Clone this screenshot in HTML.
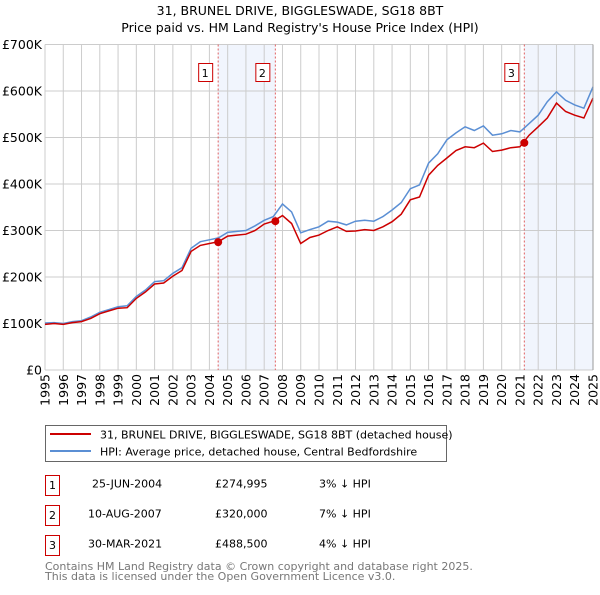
<!DOCTYPE html>
<html><head><meta charset="utf-8"><style>
body{margin:0;background:#fff;font-family:"Liberation Sans","DejaVu Sans",sans-serif;}
svg text{font-family:"DejaVu Sans","Liberation Sans",sans-serif;}
</style></head><body>
<svg id="c" width="600" height="590" xmlns="http://www.w3.org/2000/svg">
<text x="300" y="15" text-anchor="middle" font-size="12.5">31, BRUNEL DRIVE, BIGGLESWADE, SG18 8BT</text>
<text x="300" y="32" text-anchor="middle" font-size="12.5">Price paid vs. HM Land Registry's House Price Index (HPI)</text>
<g id="plot"></g>
<g>
<rect x="45.5" y="425.5" width="401" height="36" fill="#fff" stroke="#666"/>
<line x1="50" y1="434" x2="91" y2="434" stroke="#cc0000" stroke-width="2"/>
<text x="100" y="438.5" font-size="11">31, BRUNEL DRIVE, BIGGLESWADE, SG18 8BT (detached house)</text>
<line x1="50" y1="451" x2="91" y2="451" stroke="#5b8fd4" stroke-width="2"/>
<text x="100" y="455.5" font-size="11">HPI: Average price, detached house, Central Bedfordshire</text>
</g>
<g font-size="11">
<rect x="45.5" y="475.5" width="14" height="20" fill="#fff" stroke="#cc0000"/><text x="52.5" y="489" text-anchor="middle">1</text>
<text x="92" y="487.5">25-JUN-2004</text><text x="215" y="487.5">£274,995</text><text x="319" y="487.5">3% ↓ HPI</text>
<rect x="45.5" y="505.5" width="14" height="20" fill="#fff" stroke="#cc0000"/><text x="52.5" y="519" text-anchor="middle">2</text>
<text x="88" y="517.5">10-AUG-2007</text><text x="215" y="517.5">£320,000</text><text x="319" y="517.5">7% ↓ HPI</text>
<rect x="45.5" y="535.5" width="14" height="20" fill="#fff" stroke="#cc0000"/><text x="52.5" y="549" text-anchor="middle">3</text>
<text x="88" y="547.5">30-MAR-2021</text><text x="215" y="547.5">£488,500</text><text x="319" y="547.5">4% ↓ HPI</text>
</g>
<text x="45" y="570" font-size="11" fill="#777">Contains HM Land Registry data © Crown copyright and database right 2025.</text>
<text x="45" y="580" font-size="11" fill="#777">This data is licensed under the Open Government Licence v3.0.</text>
</svg>
<script>
const years=[1995,1995.5,1996,1996.5,1997,1997.5,1998,1998.5,1999,1999.5,2000,2000.5,2001,2001.5,2002,2002.5,2003,2003.5,2004,2004.5,2005,2005.5,2006,2006.5,2007,2007.5,2008,2008.5,2009,2009.5,2010,2010.5,2011,2011.5,2012,2012.5,2013,2013.5,2014,2014.5,2015,2015.5,2016,2016.5,2017,2017.5,2018,2018.5,2019,2019.5,2020,2020.5,2021,2021.5,2022,2022.5,2023,2023.5,2024,2024.5,2025];
const hpiValues=[101,102,100,104,106,114,124,130,136,138,158,172,190,192,208,220,262,276,280,284,296,298,300,310,322,330,357,340,295,302,308,320,318,312,320,322,320,330,344,360,390,398,445,465,495,510,523,515,525,505,508,515,512,530,548,577,598,580,570,563,609];
const propertyValues=[98,100,98,102,104,111,121,127,133,134,154,168,185,187,202,214,255,268,272,276,288,290,292,300,314,320,332,315,272,285,290,300,308,298,299,302,300,308,319,335,366,372,419,440,456,472,480,478,488,470,473,478,480,505,523,542,574,556,548,542,585];
const saleLabels=["1","2","3"];
const saleDates=[2004.48,2007.61,2021.24];
const salePrices=[274995,320000,488500];
const yTicks=[0,100,200,300,400,500,600,700];
const yTickLabels=["£0","£100K","£200K","£300K","£400K","£500K","£600K","£700K"];
const xTicks=[1995,1996,1997,1998,1999,2000,2001,2002,2003,2004,2005,2006,2007,2008,2009,2010,2011,2012,2013,2014,2015,2016,2017,2018,2019,2020,2021,2022,2023,2024,2025];

const X0=45,X1=593,Y0=370,Y1=44.5;
const xs=y=>X0+(y-1995)/30*(X1-X0);
const ys=v=>Y0-v/700*(Y0-Y1); // v in thousands
const NS="http://www.w3.org/2000/svg";
const g=document.getElementById('plot');
function mk(t,a){const e=document.createElementNS(NS,t);for(const k in a)e.setAttribute(k,a[k]);g.appendChild(e);return e;}
const sh1=mk('rect',{x:xs(saleDates[0]),y:Y1,width:xs(saleDates[1])-xs(saleDates[0]),height:Y0-Y1,fill:'#eef2fc',opacity:0.8});


const sh2=mk('rect',{x:xs(saleDates[2]),y:Y1,width:X1-xs(saleDates[2]),height:Y0-Y1,fill:'#eef2fc',opacity:0.8});


yTicks.forEach((t,i)=>{
 const l=mk('line',{x1:X0,x2:X1,y1:ys(t),y2:ys(t),stroke:'#ccc','stroke-width':1});
 
 
 const tx=mk('text',{x:X0-3,y:ys(t)+4.5,'text-anchor':'end','font-size':12.5});
 tx.textContent=yTickLabels[i];
 
 
});
xTicks.forEach(t=>{
 const l=mk('line',{x1:xs(t),x2:xs(t),y1:Y1,y2:Y0,stroke:'#ccc','stroke-width':1});
 
 
 const tx=mk('text',{transform:`translate(${xs(t)+4.5},374) rotate(-90)`,'text-anchor':'end','font-size':12.5});
 tx.textContent=t;
 
 
});
saleDates.forEach((d,i)=>{
 const l=mk('line',{x1:xs(d),x2:xs(d),y1:Y1,y2:Y0,stroke:'#e06060','stroke-width':1,'stroke-dasharray':'2,2'});
 
 
 const r=mk('rect',{x:xs(d)-20+0.5,y:63.5,width:14,height:18,fill:'#fff',stroke:'#cc0000'});
 
 
 const tx=mk('text',{x:xs(d)-13,y:77,'text-anchor':'middle','font-size':11});
 tx.textContent=saleLabels[i];
 
 
});
const pts=a=>a.map((v,i)=>xs(years[i]).toFixed(1)+','+ys(v).toFixed(1)).join(' ');
const hl=mk('polyline',{points:pts(hpiValues),fill:'none',stroke:'#5b8fd4','stroke-width':1.5});


const pl=mk('polyline',{points:pts(propertyValues),fill:'none',stroke:'#cc0000','stroke-width':1.5});


saleDates.forEach((d,i)=>{
 const c=mk('circle',{cx:xs(d),cy:ys(salePrices[i]/1000),r:4,fill:'#cc0000'});
 
 
});
const ax=mk('line',{x1:X1,x2:X1,y1:Y1,y2:Y0,stroke:'#999','stroke-width':1});


</script>
</body></html>
